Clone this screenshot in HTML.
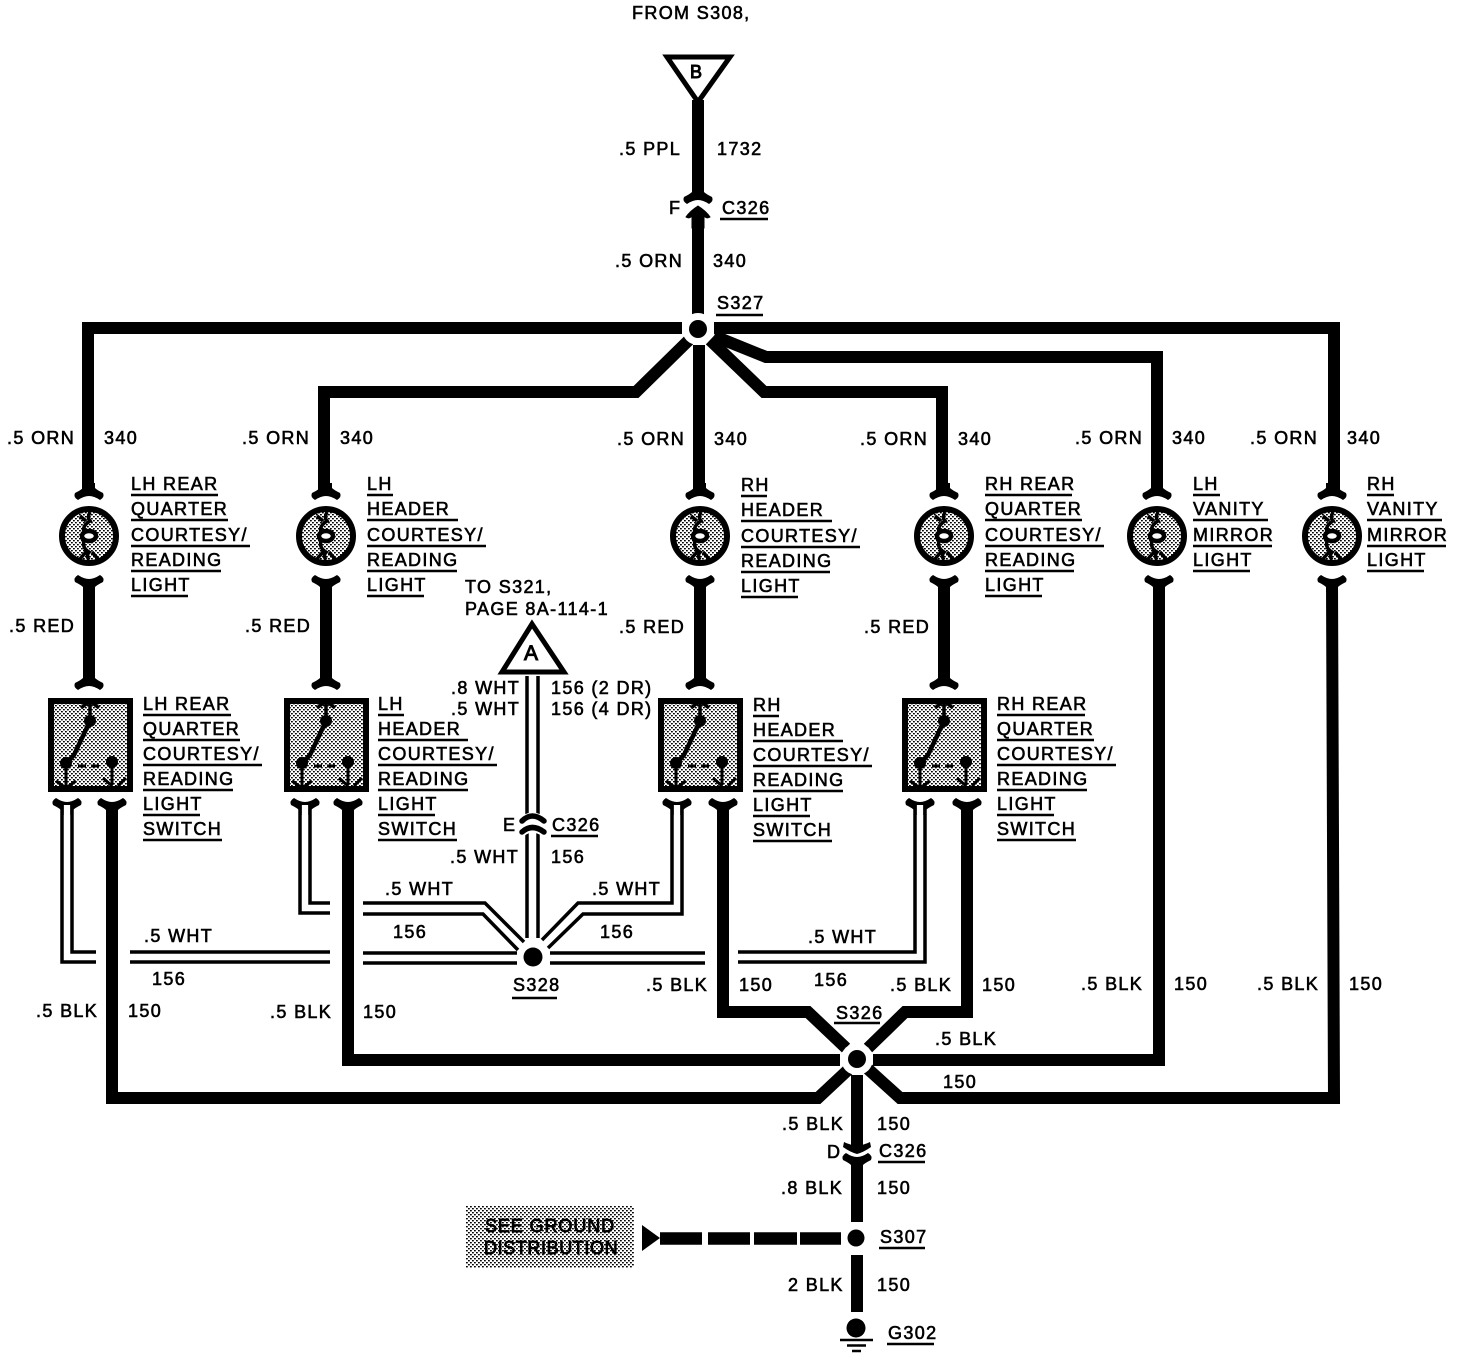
<!DOCTYPE html>
<html><head><meta charset="utf-8"><style>
html,body{margin:0;padding:0;background:#fff}
svg{display:block}
text{font-family:"Liberation Sans",sans-serif;font-size:18px;letter-spacing:1.35px;fill:#000;stroke:#000;stroke-width:.6px}
.w{fill:none;stroke:#000;stroke-width:12;stroke-linejoin:miter}
.d{fill:none;stroke:#000;stroke-width:3.5;stroke-linejoin:miter}
.u{fill:none;stroke:#000;stroke-width:2.6}
</style></head><body>
<svg xmlns="http://www.w3.org/2000/svg" width="1472" height="1358" viewBox="0 0 1472 1358">
<defs>
<pattern id="st" width="4" height="4" patternUnits="userSpaceOnUse"><rect width="4" height="4" fill="#fff"/><rect x="0" y="0" width="1.800" height="1.400" fill="#000"/><rect x="2" y="2" width="1.800" height="1.400" fill="#000"/></pattern>
<path id="fd" d="M-6 -10L6 -10L6 -5Q8 -3 14 0Q16 4 11 7Q5 3 0 3Q-5 3 -11 7Q-16 4 -14 0Q-8 -3 -6 -5Z"/>
<path id="fu" d="M-6 10L6 10L6 5Q8 3 14 0Q16 -4 11 -7Q5 -3 0 -3Q-5 -3 -11 -7Q-16 -4 -14 0Q-8 3 -6 5Z"/>
<g id="lamp">
<circle r="27" fill="url(#st)" stroke="#000" stroke-width="6"/>
<path d="M1 -24Q-2 -18 1 -15Q-7 -10 -5 -4M-5 5Q-7 12 0 16Q-3 20 0 24M-9 23L-3 16M9 23L3 16M-9 -20L-3 -15" fill="none" stroke="#000" stroke-width="3.500"/>
<ellipse rx="7" ry="5" fill="#fff" stroke="#000" stroke-width="4.500"/>
</g>
<g id="sw">
<rect x="-40" y="-44" width="79" height="88" fill="url(#st)" stroke="#000" stroke-width="6"/>
<path d="M-1 -44V-24M-10 -37L-1 -44L8 -37" fill="none" stroke="#000" stroke-width="3.500"/>
<circle cx="-1" cy="-24" r="6"/>
<path d="M-1 -24L-17 10L-24 18" fill="none" stroke="#000" stroke-width="4.500"/>
<circle cx="-25" cy="18" r="6"/><circle cx="21" cy="17" r="6"/>
<path d="M-13 21H-5M0 21H8" stroke="#000" stroke-width="3"/>
<path d="M-25 18V43M-35 36L-25 43L-15 36M21 17V40M12 33L21 41M35 33L27 41" fill="none" stroke="#000" stroke-width="3"/>
</g>
</defs>

<!-- main black wires -->
<path class="w" d="M698 100V195M698 212V318"/>
<path class="w" d="M682 328H88V492"/>
<path class="w" d="M689 340L636 392H324V492"/>
<path class="w" d="M699 345V492"/>
<path class="w" d="M710 340L764 392H942V492"/>
<path class="w" d="M714 336L766 357H1157V492"/>
<path class="w" d="M714 328H1334V492"/>
<path class="w" d="M89 582V685M326 582V685M700 582V685M944 582V685"/>
<path class="w" d="M1159 582V1060H873"/>
<path class="w" d="M1332 582L1334 1098H900L868 1069"/>
<path class="w" d="M112 805V1098H818L849 1069"/>
<path class="w" d="M348 805V1060H840"/>
<path class="w" d="M723 805V1012H808L846 1048"/>
<path class="w" d="M967 805V1012H905L868 1048"/>
<path class="w" d="M857 1075V1140M857 1160V1222M857 1255V1312"/>

<!-- splices -->
<circle cx="698" cy="329" r="16" fill="#fff"/><circle cx="698" cy="329" r="9"/>
<circle cx="857" cy="1059" r="16" fill="#fff"/><circle cx="857" cy="1059" r="9"/>
<circle cx="856" cy="1238" r="8.500"/><circle cx="533" cy="957" r="9.500"/>

<!-- triangles -->
<polygon points="667,57 730,57 698,102" fill="#fff" stroke="#000" stroke-width="5"/>
<polygon points="532,624 502,672 564,672" fill="#fff" stroke="#000" stroke-width="5"/>

<!-- connector F -->
<use href="#fd" x="698" y="197"/>
<path d="M686 217Q690 211 698 206Q706 211 710 217Q707 219 704 216V228H692V216Q689 219 686 217Z" stroke="#000" stroke-width="1"/>
<!-- connector D -->
<path d="M844 1142Q850 1145 857 1146Q864 1145 870 1142L871 1147Q864 1152 857 1154Q850 1152 843 1147Z M851 1135H863V1148H851Z"/>
<use href="#fu" x="857" y="1160"/>

<!-- forks -->
<use href="#fd" x="89" y="493"/><use href="#fd" x="326" y="493"/><use href="#fd" x="700" y="493"/><use href="#fd" x="944" y="493"/><use href="#fd" x="1157" y="493"/><use href="#fd" x="1332" y="493"/>
<use href="#fu" x="89" y="582"/><use href="#fu" x="326" y="582"/><use href="#fu" x="700" y="582"/><use href="#fu" x="944" y="582"/><use href="#fu" x="1159" y="582"/><use href="#fu" x="1332" y="582"/>
<use href="#fd" x="89" y="683"/><use href="#fd" x="326" y="683"/><use href="#fd" x="700" y="683"/><use href="#fd" x="944" y="683"/>
<use href="#fu" x="112" y="805"/><use href="#fu" x="348" y="805"/><use href="#fu" x="723" y="805"/><use href="#fu" x="967" y="805"/>
<use href="#fu" x="67" y="805"/><use href="#fu" x="305" y="805"/><use href="#fu" x="677" y="805"/><use href="#fu" x="920" y="805"/>
<path d="M67 805V816M305 805V816M677 805V816M920 805V816" stroke="#fff" stroke-width="6.500"/>

<!-- lamps and switches -->
<use href="#lamp" x="89" y="536"/><use href="#lamp" x="326" y="536"/><use href="#lamp" x="700" y="536"/><use href="#lamp" x="944" y="536"/><use href="#lamp" x="1157" y="536"/><use href="#lamp" x="1332" y="536"/>
<use href="#sw" x="91" y="745"/><use href="#sw" x="327" y="745"/><use href="#sw" x="701" y="745"/><use href="#sw" x="945" y="745"/>

<!-- white double wires -->
<path class="d" d="M527 676V822M538 676V822M527 830V938M538 830V938"/>
<path d="M522 822Q532 812 544 822M522 832Q532 824 544 832" fill="none" stroke="#fff" stroke-width="9"/>
<path d="M522 821Q532 811 544 821M522 832Q532 823 544 832" fill="none" stroke="#000" stroke-width="5.500" stroke-linecap="round"/>
<path class="d" d="M62 805V962H96M72 805V952H96"/>
<path class="d" d="M130 952H330M130 962H330M363 953H517M363 963H517"/>
<path class="d" d="M300 805V913H330M310 805V903H330"/>
<path class="d" d="M363 903H485L524 942M363 914H483L518 950"/>
<path class="d" d="M542 940L578 903H672V805M548 948L583 914H682V805"/>
<path class="d" d="M550 953H705M550 963H705M738 952H915V805M738 962H925V805"/>

<!-- ground -->
<circle cx="856" cy="1328" r="9.500"/>
<path d="M840 1340H873M847 1345.500H866M852 1351H861" stroke="#000" stroke-width="2.500"/>

<!-- dashed -->
<polygon points="642,1225 660,1238 642,1251" />
<path d="M660 1238.500H702M708 1238.500H750M754 1238.500H797M800 1238.500H841" stroke="#000" stroke-width="12.500"/>
<rect x="466" y="1206" width="168" height="62" fill="url(#st)"/>
<text x="485" y="1232" style="stroke-width:.9px;letter-spacing:.9px">SEE GROUND</text>
<text x="484" y="1254" style="stroke-width:.9px;letter-spacing:.6px">DISTRIBUTION</text>

<!-- text -->
<text x="632" y="19">FROM S308,</text>
<text x="690" y="78" style="stroke-width:1px">B</text>
<text x="524" y="660" style="font-size:21px;stroke-width:1px">A</text>
<text x="619" y="155">.5 PPL</text><text x="717" y="155">1732</text>
<text x="669" y="214">F</text><text x="722" y="214">C326</text>
<text x="615" y="267">.5 ORN</text><text x="713" y="267">340</text>
<text x="717" y="309">S327</text>

<text x="7" y="444">.5 ORN</text><text x="104" y="444">340</text>
<text x="242" y="444">.5 ORN</text><text x="340" y="444">340</text>
<text x="617" y="445">.5 ORN</text><text x="714" y="445">340</text>
<text x="860" y="445">.5 ORN</text><text x="958" y="445">340</text>
<text x="1075" y="444">.5 ORN</text><text x="1172" y="444">340</text>
<text x="1250" y="444">.5 ORN</text><text x="1347" y="444">340</text>

<text x="9" y="632">.5 RED</text><text x="245" y="632">.5 RED</text><text x="619" y="633">.5 RED</text><text x="864" y="633">.5 RED</text>

<text x="131" y="490">LH REAR</text><text x="131" y="515">QUARTER</text><text x="131" y="541">COURTESY/</text><text x="131" y="566">READING</text><text x="131" y="591">LIGHT</text>
<text x="367" y="490">LH</text><text x="367" y="515">HEADER</text><text x="367" y="541">COURTESY/</text><text x="367" y="566">READING</text><text x="367" y="591">LIGHT</text>
<text x="741" y="491">RH</text><text x="741" y="516">HEADER</text><text x="741" y="542">COURTESY/</text><text x="741" y="567">READING</text><text x="741" y="592">LIGHT</text>
<text x="985" y="490">RH REAR</text><text x="985" y="515">QUARTER</text><text x="985" y="541">COURTESY/</text><text x="985" y="566">READING</text><text x="985" y="591">LIGHT</text>
<text x="1193" y="490">LH</text><text x="1193" y="515">VANITY</text><text x="1193" y="541">MIRROR</text><text x="1193" y="566">LIGHT</text>
<text x="1367" y="490">RH</text><text x="1367" y="515">VANITY</text><text x="1367" y="541">MIRROR</text><text x="1367" y="566">LIGHT</text>

<text x="143" y="710">LH REAR</text><text x="143" y="735">QUARTER</text><text x="143" y="760">COURTESY/</text><text x="143" y="785">READING</text><text x="143" y="810">LIGHT</text><text x="143" y="835">SWITCH</text>
<text x="378" y="710">LH</text><text x="378" y="735">HEADER</text><text x="378" y="760">COURTESY/</text><text x="378" y="785">READING</text><text x="378" y="810">LIGHT</text><text x="378" y="835">SWITCH</text>
<text x="753" y="711">RH</text><text x="753" y="736">HEADER</text><text x="753" y="761">COURTESY/</text><text x="753" y="786">READING</text><text x="753" y="811">LIGHT</text><text x="753" y="836">SWITCH</text>
<text x="997" y="710">RH REAR</text><text x="997" y="735">QUARTER</text><text x="997" y="760">COURTESY/</text><text x="997" y="785">READING</text><text x="997" y="810">LIGHT</text><text x="997" y="835">SWITCH</text>

<text x="465" y="593">TO S321,</text><text x="465" y="615">PAGE 8A-114-1</text>
<text x="451" y="694">.8 WHT</text><text x="451" y="715">.5 WHT</text>
<text x="551" y="694">156 (2 DR)</text><text x="551" y="715">156 (4 DR)</text>
<text x="503" y="831">E</text><text x="552" y="831">C326</text>
<text x="450" y="863">.5 WHT</text><text x="551" y="863">156</text>
<text x="385" y="895">.5 WHT</text><text x="393" y="938">156</text>
<text x="592" y="895">.5 WHT</text><text x="600" y="938">156</text>
<text x="144" y="942">.5 WHT</text><text x="152" y="985">156</text>
<text x="808" y="943">.5 WHT</text><text x="814" y="986">156</text>
<text x="513" y="991">S328</text>

<text x="36" y="1017">.5 BLK</text><text x="128" y="1017">150</text>
<text x="270" y="1018">.5 BLK</text><text x="363" y="1018">150</text>
<text x="646" y="991">.5 BLK</text><text x="739" y="991">150</text>
<text x="890" y="991">.5 BLK</text><text x="982" y="991">150</text>
<text x="1081" y="990">.5 BLK</text><text x="1174" y="990">150</text>
<text x="1257" y="990">.5 BLK</text><text x="1349" y="990">150</text>
<text x="836" y="1019">S326</text>
<text x="935" y="1045">.5 BLK</text><text x="943" y="1088">150</text>
<text x="782" y="1130">.5 BLK</text><text x="877" y="1130">150</text>
<text x="827" y="1158">D</text><text x="879" y="1157">C326</text>
<text x="781" y="1194">.8 BLK</text><text x="877" y="1194">150</text>
<text x="880" y="1243">S307</text>
<text x="788" y="1291">2 BLK</text><text x="877" y="1291">150</text>
<text x="888" y="1339">G302</text>

<!-- underlines -->
<path class="u" d="M720 219H768M716 315H763M551 836H598M512 998H557M834 1023H880M878 1162H925M879 1248H925M887 1344H934
M131 495H218M131 520H228M131 546H250M131 571H221M131 596H188
M367 495H393M367 520H458M367 546H486M367 571H457M367 596H424
M741 496H767M741 521H832M741 547H860M741 572H830M741 597H798
M985 495H1072M985 520H1082M985 546H1104M985 571H1074M985 596H1042
M1193 495H1220M1193 520H1268M1193 546H1272M1193 571H1250
M1367 495H1394M1367 520H1442M1367 546H1446M1367 571H1424
M143 715H231M143 740H240M143 765H262M143 790H233M143 815H200M143 840H222
M378 715H404M378 740H468M378 765H497M378 790H468M378 815H435M378 840H457
M753 716H779M753 741H843M753 766H872M753 791H843M753 816H810M753 841H832
M997 715H1085M997 740H1094M997 765H1116M997 790H1087M997 815H1054M997 840H1076"/>
</svg>
</body></html>
